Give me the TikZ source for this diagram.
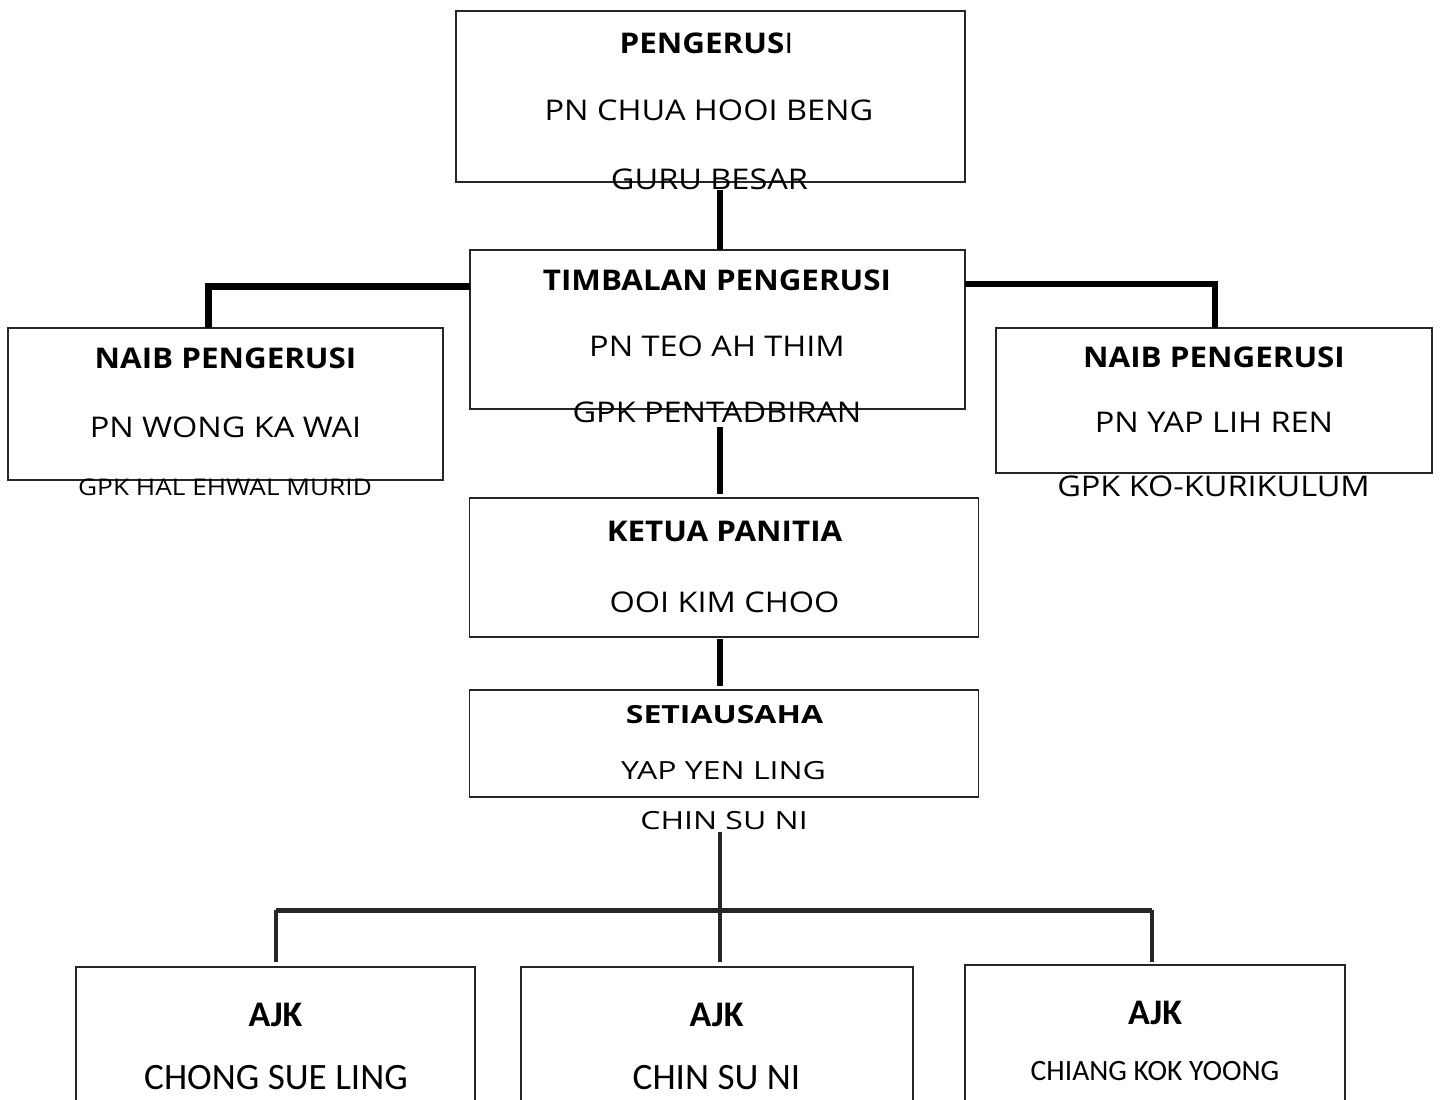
\documentclass[tikz,border=0pt]{standalone}
\usepackage{fontspec}
\setmainfont{Open Sans}
\newfontfamily\osA{Open Sans}[FakeStretch=1.14, BoldFeatures={FakeStretch=1.10}]
\newfontfamily\osB{Open Sans}[FakeStretch=1.28]
\newfontfamily\carl{Carlito}
\newcommand\fsz[1]{\fontsize{#1bp}{#1bp}\selectfont}
\tikzset{
  box/.style={draw=black!85, line width=1.8bp, inner sep=0pt, outer sep=0pt},
  txt/.style={inner sep=0pt, outer sep=0pt, text=black},
  big/.style={txt, font=\osA\fsz{28.5}},
  mid/.style={txt, font=\osB\fsz{25}},
  sml/.style={txt, font=\osA\fsz{23}},
  cbold/.style={txt, font=\carl\fsz{36}},
  cbig/.style={txt, font=\carl\fsz{37.2}},
  csml/.style={txt, font=\carl\fsz{29.5}},
  conn/.style={line width=6bp, black},
  bus/.style={line width=5bp, black!85},
}
\begin{document}
\begin{tikzpicture}[x=1bp,y=-1bp]
\useasboundingbox (0,0) rectangle (1441,1099);
\clip (0,0) rectangle (1441,1099);
\fill[white] (0,0) rectangle (1441,1099);

% boxes
\node[box, minimum width=509bp, minimum height=171bp] (peng) at (710.5,96.5) {};
\node[box, minimum width=495bp, minimum height=159bp] (timb) at (717.5,329.5) {};
\node[box, minimum width=435bp, minimum height=152bp] (naibL) at (225.5,404) {};
\node[box, minimum width=436bp, minimum height=145bp] (naibR) at (1214,400.5) {};
\node[box, minimum width=509bp, minimum height=139bp] (ketua) at (724,567.5) {};
\node[box, minimum width=509bp, minimum height=107bp] (setia) at (724,743.5) {};
\node[box, minimum width=399bp, minimum height=200bp] (ajkA) at (275.5,1067) {};
\node[box, minimum width=392bp, minimum height=200bp] (ajkB) at (717,1067) {};
\node[box, minimum width=380bp, minimum height=200bp] (ajkC) at (1155,1065) {};

% texts
\node[big] (pengT) at (706.5,43) {\textbf{PENGERUS}I};
\node[big] (chua) at (709,110.5) {PN CHUA HOOI BENG};
\node[big] (guru) at (709.5,179) {GURU BESAR};

\node[big] (timbT) at (717,280) {\textbf{TIMBALAN PENGERUSI}};
\node[big] (teo) at (717,346) {PN TEO AH THIM};
\node[big] (pentad) at (717,412.5) {GPK PENTADBIRAN};

\node[big] (naibLT) at (225.5,358) {\textbf{NAIB PENGERUSI}};
\node[big] (wong) at (225.5,427) {PN WONG KA WAI};
\node[sml] (hal) at (225,487) {GPK HAL EHWAL MURID};

\node[big] (naibRT) at (1214,357) {\textbf{NAIB PENGERUSI}};
\node[big] (yap) at (1214,422) {PN YAP LIH REN};
\node[big] (koku) at (1213.5,486) {GPK KO-KURIKULUM};

\node[big] (ketuaT) at (724.5,531) {\textbf{KETUA PANITIA}};
\node[big] (ooi) at (724.5,602) {OOI KIM CHOO};

\node[mid] (setiaT) at (724.5,715) {\textbf{SETIAUSAHA}};
\node[mid] (yyl) at (723.5,771) {YAP YEN LING};
\node[mid] (chin) at (724,821) {CHIN SU NI};

\node[cbold] (ajkAT) at (275.5,1015) {\textbf{AJK}};
\node[cbig] (chong) at (276,1078) {CHONG SUE LING};
\node[cbold] (ajkBT) at (716.5,1015) {\textbf{AJK}};
\node[cbig] (chinB) at (716.5,1078) {CHIN SU NI};
\node[cbold] (ajkCT) at (1155,1013) {\textbf{AJK}};
\node[csml] (chiang) at (1155,1071) {CHIANG KOK YOONG};

% connectors
\coordinate (spine) at (720,0);
\coordinate (jl) at (208.5,286);
\coordinate (jr) at (1215,284);
\coordinate (busL) at (276,910);
\coordinate (busR) at (1152,910);

\draw[conn] ([yshift=-1bp]guru.south -| spine) -- (timb.north -| spine);
\draw[conn, line width=7bp] (timb.west |- jl) -- (jl) -- (jl |- naibL.north);
\draw[conn, line width=5.5bp] (timb.east |- jr) -- (jr) -- (jr |- naibR.north);
\draw[conn] ([yshift=-4bp]pentad.south -| spine) -- ([yshift=4bp]ketua.north -| spine);
\draw[conn] ([yshift=-2bp]ketua.south -| spine) -- ([yshift=4bp]setia.north -| spine);
\draw[bus, line width=4.5bp] ([yshift=-2bp]chin.south -| spine) -- (spine |- busL);
\draw[bus] (busL) -- (busR);
\draw[bus, line width=4.5bp] (busL) -- ([yshift=5bp]busL |- ajkA.north);
\draw[bus, line width=4.5bp] (spine |- busL) -- ([yshift=5bp]spine |- ajkB.north);
\draw[bus, line width=4.5bp] (busR) -- ([yshift=3bp]busR |- ajkC.north);
\end{tikzpicture}
\end{document}
